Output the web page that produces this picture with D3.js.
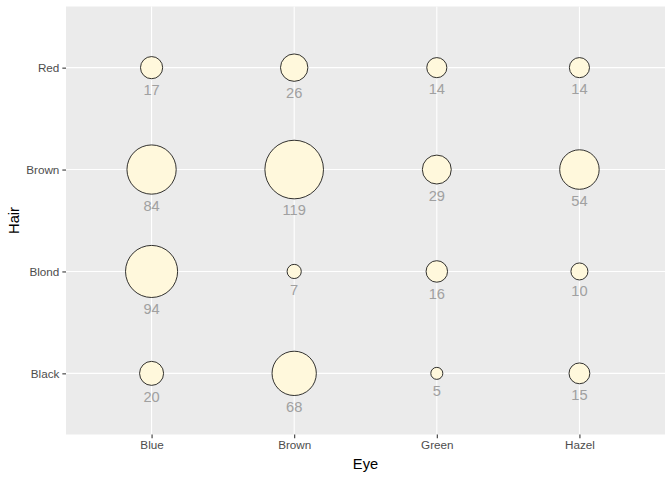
<!DOCTYPE html>
<html><head><meta charset="utf-8">
<script src="https://cdn.jsdelivr.net/npm/d3@7"></script>
<style>body{margin:0;background:#fff}svg{display:block}text{font-family:"Liberation Sans",Arial,sans-serif}</style>
</head><body>
<svg id="c" width="672" height="480"></svg>
<script>
const eyes = ["Blue","Brown","Green","Hazel"];
const hairs = ["Black","Blond","Brown","Red"];
// counts[hair][eye]
const black = [20, 68, 5, 15];
const blond = [94, 7, 16, 10];
const brown = [84, 119, 29, 54];
const red = [17, 26, 14, 14];
const rows = [black, blond, brown, red];
const data = [];
hairs.forEach((h,i)=>eyes.forEach((e,j)=>data.push({hair:h, eye:e, n:rows[i][j]})));

const svg = d3.select("#c");
const L=66, R=665, T=6.5, B=434.5;
const x = d3.scalePoint().domain(eyes).range([L,R]).padding(0.6);
const y = d3.scalePoint().domain(hairs).range([B,T]).padding(0.6);
const r = d3.scaleSqrt().domain([0,119]).range([0,29.3]);

svg.append("rect").attr("x",L).attr("y",T).attr("width",R-L).attr("height",B-T).attr("fill","#EBEBEB");
const g = svg.append("g");
eyes.forEach(e=>g.append("line").attr("x1",x(e)).attr("x2",x(e)).attr("y1",T).attr("y2",B).attr("stroke","#fff").attr("stroke-width",1.07));
hairs.forEach(h=>g.append("line").attr("y1",y(h)).attr("y2",y(h)).attr("x1",L).attr("x2",R).attr("stroke","#fff").attr("stroke-width",1.07));

const xa = svg.append("g").attr("transform",`translate(0,${B})`).call(d3.axisBottom(x).tickSize(3.67).tickPadding(3));
const ya = svg.append("g").attr("transform",`translate(${L},0)`).call(d3.axisLeft(y).tickSize(3.67).tickPadding(3));
[xa,ya].forEach(a=>{
  a.select(".domain").remove();
  a.selectAll(".tick line").attr("stroke","#333").attr("stroke-width",1.07);
  a.selectAll(".tick text").attr("fill","#4D4D4D").style("font-size","11.7px");
});

svg.selectAll("circle.b").data(data).join("circle").attr("class","b")
  .attr("cx",d=>x(d.eye)).attr("cy",d=>y(d.hair)).attr("r",d=>r(d.n))
  .attr("fill","#FFF8DC").attr("stroke","#000").attr("stroke-width",0.8);
svg.selectAll("text.lab").data(data).join("text").attr("class","lab")
  .attr("x",d=>x(d.eye)).attr("y",d=>y(d.hair)+r(d.n)+16.5)
  .attr("text-anchor","middle").attr("fill","#A0A0A0").style("font-size","14.67px").text(d=>d.n);

svg.append("text").attr("x",(L+R)/2).attr("y",469).attr("text-anchor","middle").style("font-size","14.67px").attr("fill","#000").text("Eye");
svg.append("text").attr("transform",`translate(18.5,${(T+B)/2}) rotate(-90)`).attr("text-anchor","middle").style("font-size","14.67px").attr("fill","#000").text("Hair");
</script>
</body></html>
